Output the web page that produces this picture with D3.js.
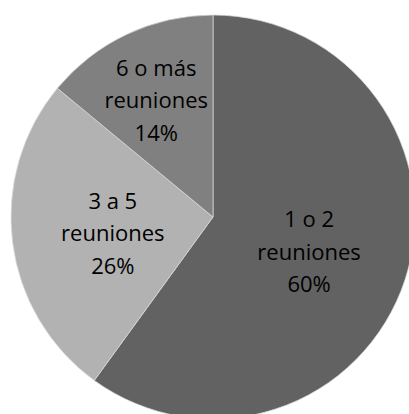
<!DOCTYPE html>
<html><head><meta charset="utf-8">
<script src="https://cdn.jsdelivr.net/npm/d3@7"></script>
<style>html,body{margin:0;padding:0;background:#fff;overflow:hidden}</style>
</head><body>
<svg id="c" width="409" height="414"></svg>
<script>
const categories = ["1 o 2 reuniones", "3 a 5 reuniones", "6 o más reuniones"];
const labelLines = [["1 o 2", "reuniones", "60%"], ["3 a 5", "reuniones", "26%"], ["6 o más", "reuniones", "14%"]];
const values = [60, 26, 14];
const colors = ["#626262", "#b2b2b2", "#808080"];

const svg = d3.select("#c");
const cx = 213, cy = 217, R = 202;
const g = svg.append("g").attr("transform", `translate(${cx},${cy})`);
const pie = d3.pie().sort(null).value(d => d)(values);
const arc = d3.arc().innerRadius(0).outerRadius(R);
g.selectAll("path").data(pie).join("path")
  .attr("d", arc).attr("fill", (d, i) => colors[i])
  .attr("stroke", "#d9d9d9").attr("stroke-width", 0.75);

const frac = [0.5, 0.5, 0.66];
const lh = 32.5;
pie.forEach((d, i) => {
  const r = R * frac[i];
  const la = d3.arc().innerRadius(r).outerRadius(r);
  const [x, y0] = la.centroid(d);
  const y = y0 + 4;
  const lines = labelLines[i];
  const t = g.append("text").attr("text-anchor", "middle")
    .attr("font-family", "'Open Sans', sans-serif").attr("font-size", 22).attr("fill", "#000");
  lines.forEach((s, k) => {
    t.append("tspan").attr("x", x).attr("y", y + (k - (lines.length - 1) / 2) * lh).attr("dy", "0.35em").text(s);
  });
});
</script>
</body></html>
